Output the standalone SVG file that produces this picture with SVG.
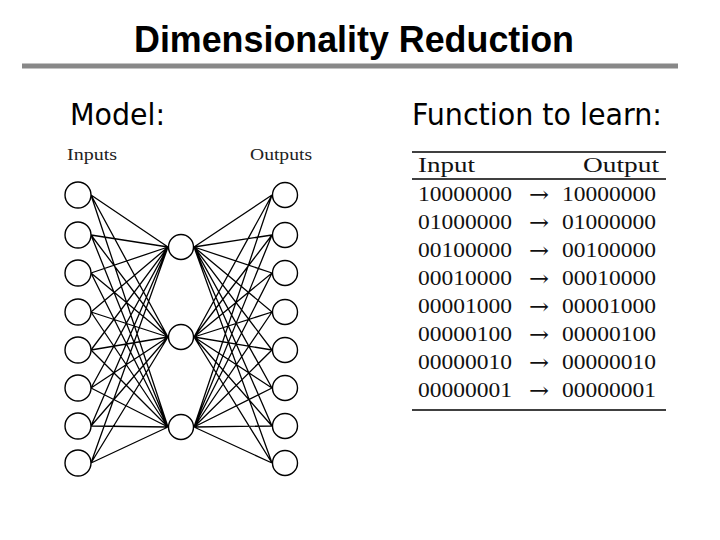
<svg xmlns="http://www.w3.org/2000/svg" width="720" height="540" viewBox="0 0 720 540">
<style>
.title{font-family:"Liberation Sans",Arial,sans-serif;font-weight:bold;font-size:37px;fill:#000}
.sub{font-family:"DejaVu Sans Condensed","DejaVu Sans",sans-serif;font-size:30px;fill:#000}
.lbl{font-family:"Liberation Serif","Times New Roman",serif;font-size:16px;fill:#222}
.tb{font-family:"Liberation Serif","Times New Roman",serif;font-size:22px;fill:#111}
.ar{font-family:"DejaVu Serif",serif;font-size:22px;fill:#111}
.node{fill:#fff;stroke:#000;stroke-width:1.4}
.edge{stroke:#000;stroke-width:1.3;fill:none}
.rule{stroke:#000;stroke-width:1.5}
</style>
<rect width="720" height="540" fill="#fff"/>
<text class="title" x="354" y="52" text-anchor="middle" textLength="440" lengthAdjust="spacingAndGlyphs">Dimensionality Reduction</text>
<line x1="22" y1="66" x2="678" y2="66" stroke="#888" stroke-width="5"/>
<text class="sub" x="70" y="125" textLength="95" lengthAdjust="spacingAndGlyphs">Model:</text>
<text class="sub" x="412" y="125" textLength="250" lengthAdjust="spacingAndGlyphs">Function to learn:</text>
<text class="lbl" x="67" y="160" textLength="50" lengthAdjust="spacingAndGlyphs">Inputs</text>
<text class="lbl" x="250" y="160" textLength="62" lengthAdjust="spacingAndGlyphs">Outputs</text>
<g id="connectors">
<path class="edge" d="M91,195L168,247M91,195L168,337M91,195L168,427M91,235L168,247M91,235L168,337M91,235L168,427M91,273L168,247M91,273L168,337M91,273L168,427M91,312L168,247M91,312L168,337M91,312L168,427M91,350L168,247M91,350L168,337M91,350L168,427M91,388L168,247M91,388L168,337M91,388L168,427M91,426L168,247M91,426L168,337M91,426L168,427M91,463L168,247M91,463L168,337M91,463L168,427"/>
<path class="edge" d="M194,247L272,195M194,247L272,235M194,247L272,273M194,247L272,312M194,247L272,350M194,247L272,388M194,247L272,426M194,247L272,463M194,337L272,195M194,337L272,235M194,337L272,273M194,337L272,312M194,337L272,350M194,337L272,388M194,337L272,426M194,337L272,463M194,427L272,195M194,427L272,235M194,427L272,273M194,427L272,312M194,427L272,350M194,427L272,388M194,427L272,426M194,427L272,463"/>
</g>
<g id="in1"><circle class="node" cx="78" cy="195" r="13"/></g>
<g id="in2"><circle class="node" cx="78" cy="235" r="13"/></g>
<g id="in3"><circle class="node" cx="78" cy="273" r="13"/></g>
<g id="in4"><circle class="node" cx="78" cy="312" r="13"/></g>
<g id="in5"><circle class="node" cx="78" cy="350" r="13"/></g>
<g id="in6"><circle class="node" cx="78" cy="388" r="13"/></g>
<g id="in7"><circle class="node" cx="78" cy="426" r="13"/></g>
<g id="in8"><circle class="node" cx="78" cy="463" r="13"/></g>
<g id="h1"><circle class="node" cx="181" cy="247" r="12.5"/></g>
<g id="h2"><circle class="node" cx="181" cy="337" r="12.5"/></g>
<g id="h3"><circle class="node" cx="181" cy="427" r="12.5"/></g>
<g id="out1"><circle class="node" cx="285" cy="195" r="12.5"/></g>
<g id="out2"><circle class="node" cx="285" cy="235" r="12.5"/></g>
<g id="out3"><circle class="node" cx="285" cy="273" r="12.5"/></g>
<g id="out4"><circle class="node" cx="285" cy="312" r="12.5"/></g>
<g id="out5"><circle class="node" cx="285" cy="350" r="12.5"/></g>
<g id="out6"><circle class="node" cx="285" cy="388" r="12.5"/></g>
<g id="out7"><circle class="node" cx="285" cy="426" r="12.5"/></g>
<g id="out8"><circle class="node" cx="285" cy="463" r="12.5"/></g>
<g id="table">
<line class="rule" x1="412" y1="152" x2="666" y2="152"/>
<line class="rule" x1="412" y1="179" x2="666" y2="179"/>
<line class="rule" x1="412" y1="410" x2="666" y2="410"/>
<text class="tb" x="418" y="172" textLength="57" lengthAdjust="spacingAndGlyphs">Input</text>
<text class="tb" x="659" y="172" text-anchor="end" textLength="76" lengthAdjust="spacingAndGlyphs">Output</text>
<g class="tb">
<text x="418" y="201" textLength="94" lengthAdjust="spacingAndGlyphs">10000000</text>
<text x="418" y="229" textLength="94" lengthAdjust="spacingAndGlyphs">01000000</text>
<text x="418" y="257" textLength="94" lengthAdjust="spacingAndGlyphs">00100000</text>
<text x="418" y="285" textLength="94" lengthAdjust="spacingAndGlyphs">00010000</text>
<text x="418" y="313" textLength="94" lengthAdjust="spacingAndGlyphs">00001000</text>
<text x="418" y="341" textLength="94" lengthAdjust="spacingAndGlyphs">00000100</text>
<text x="418" y="369" textLength="94" lengthAdjust="spacingAndGlyphs">00000010</text>
<text x="418" y="397" textLength="94" lengthAdjust="spacingAndGlyphs">00000001</text>
<text x="562" y="201" textLength="94" lengthAdjust="spacingAndGlyphs">10000000</text>
<text x="562" y="229" textLength="94" lengthAdjust="spacingAndGlyphs">01000000</text>
<text x="562" y="257" textLength="94" lengthAdjust="spacingAndGlyphs">00100000</text>
<text x="562" y="285" textLength="94" lengthAdjust="spacingAndGlyphs">00010000</text>
<text x="562" y="313" textLength="94" lengthAdjust="spacingAndGlyphs">00001000</text>
<text x="562" y="341" textLength="94" lengthAdjust="spacingAndGlyphs">00000100</text>
<text x="562" y="369" textLength="94" lengthAdjust="spacingAndGlyphs">00000010</text>
<text x="562" y="397" textLength="94" lengthAdjust="spacingAndGlyphs">00000001</text>
</g>
<g class="ar">
<text x="529" y="202" textLength="20" lengthAdjust="spacingAndGlyphs">→</text>
<text x="529" y="230" textLength="20" lengthAdjust="spacingAndGlyphs">→</text>
<text x="529" y="258" textLength="20" lengthAdjust="spacingAndGlyphs">→</text>
<text x="529" y="286" textLength="20" lengthAdjust="spacingAndGlyphs">→</text>
<text x="529" y="314" textLength="20" lengthAdjust="spacingAndGlyphs">→</text>
<text x="529" y="342" textLength="20" lengthAdjust="spacingAndGlyphs">→</text>
<text x="529" y="370" textLength="20" lengthAdjust="spacingAndGlyphs">→</text>
<text x="529" y="398" textLength="20" lengthAdjust="spacingAndGlyphs">→</text>
</g>
</g>
</svg>
